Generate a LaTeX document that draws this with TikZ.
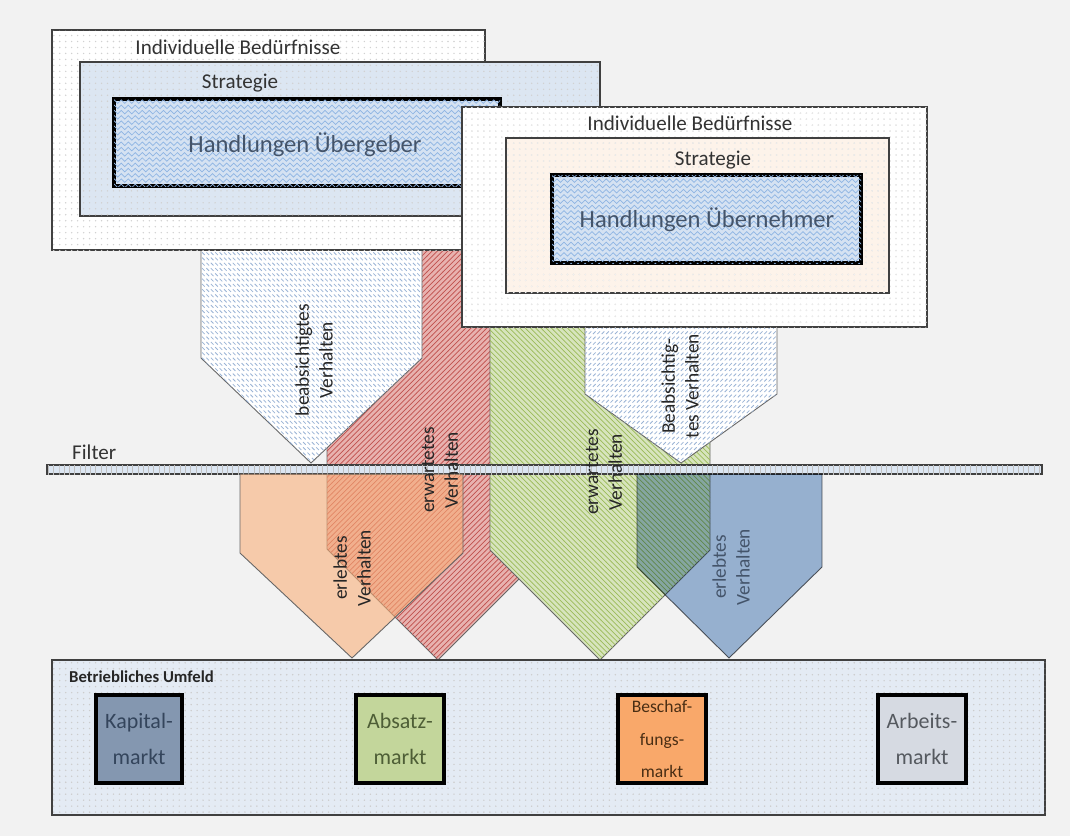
\documentclass[tikz,border=0pt]{standalone}
\usepackage{fontspec}
\setmainfont{Carlito}
\usepackage{tikz}
\usetikzlibrary{patterns}

\definecolor{bgray}{HTML}{F2F2F2}
\definecolor{frame}{HTML}{404040}
\definecolor{stratA}{HTML}{DCE6F2}
\definecolor{stratB}{HTML}{FDF3EA}
\definecolor{actfill}{HTML}{D5E2F2}
\definecolor{wavecol}{HTML}{8EB4E3}
\definecolor{redfill}{HTML}{E8B2AF}
\definecolor{redline}{HTML}{C0504D}
\definecolor{greenfill}{HTML}{D7E4BD}
\definecolor{greenline}{HTML}{9BBB59}
\definecolor{orangefill}{HTML}{F9AE76}
\definecolor{bluefill}{HTML}{95B3D7}
\definecolor{beabline}{HTML}{9AB3D5}
\definecolor{umfeld}{HTML}{E4EBF4}
\definecolor{kapfill}{HTML}{8497B0}
\definecolor{absfill}{HTML}{C3D69B}
\definecolor{besfill}{HTML}{F9A86A}
\definecolor{arbfill}{HTML}{D6DAE2}
\definecolor{kaptext}{HTML}{34455C}
\definecolor{abstext}{HTML}{4E5E36}
\definecolor{bestext}{HTML}{4A2E14}
\definecolor{arbtext}{HTML}{55595F}
\definecolor{acttext}{HTML}{44546A}
\definecolor{txt}{HTML}{262626}

\pgfdeclarepatternformonly{wave}{\pgfqpoint{-0.5pt}{-0.5pt}}{\pgfqpoint{4.5pt}{3.5pt}}{\pgfqpoint{4pt}{3pt}}{%
  \pgfsetlinewidth{0.4pt}
  \pgfpathmoveto{\pgfqpoint{0pt}{1pt}}
  \pgfpathlineto{\pgfqpoint{1pt}{2pt}}
  \pgfpathlineto{\pgfqpoint{3pt}{0pt}}
  \pgfpathlineto{\pgfqpoint{4pt}{1pt}}
  \pgfusepathqstroke}
\pgfdeclarepatternformonly{bslash}{\pgfqpoint{-0.5pt}{-0.5pt}}{\pgfqpoint{3pt}{3.5pt}}{\pgfqpoint{2.5pt}{3pt}}{%
  \pgfsetlinewidth{0.45pt}
  \pgfpathmoveto{\pgfqpoint{0pt}{2.2pt}}
  \pgfpathlineto{\pgfqpoint{1.5pt}{0.7pt}}
  \pgfusepathqstroke}
\pgfdeclarepatternformonly{fslash}{\pgfqpoint{-0.5pt}{-0.5pt}}{\pgfqpoint{3pt}{3.5pt}}{\pgfqpoint{2.5pt}{3pt}}{%
  \pgfsetlinewidth{0.45pt}
  \pgfpathmoveto{\pgfqpoint{0pt}{0.7pt}}
  \pgfpathlineto{\pgfqpoint{1.5pt}{2.2pt}}
  \pgfusepathqstroke}
\pgfdeclarepatternformonly{fewdots}{\pgfqpoint{-1pt}{-1pt}}{\pgfqpoint{1pt}{1pt}}{\pgfqpoint{3.4pt}{3.4pt}}{%
  \pgfpathcircle{\pgfqpoint{0pt}{0pt}}{0.45pt}
  \pgfusepathqfill}

\tikzstyle{outerbox}=[draw=frame,line width=0.8pt,fill=white,postaction={pattern=fewdots,pattern color=black!18}]
\tikzstyle{actbox}=[draw=black,line width=2.2pt,fill=actfill,postaction={pattern=wave,pattern color=wavecol}]
\tikzstyle{chev}=[draw=black!60,line width=0.5pt]
\tikzstyle{marketbox}=[draw=black,line width=2pt]
\tikzstyle{marketlabel}=[align=center,font=\fontsize{12.5}{20}\selectfont]
\tikzstyle{vlabel}=[rotate=90,align=center,text=txt,font=\fontsize{11}{13.5}\selectfont]
\tikzstyle{boxtitle}=[text=black!80,font=\fontsize{12}{14}\selectfont]

\begin{document}
\begin{tikzpicture}[x=0.02cm,y=-0.02cm]
\useasboundingbox (0,0) rectangle (1070,836);
\fill[bgray] (0,0) rectangle (1070,836);

\draw[chev,fill=redfill,postaction={pattern=north east lines,pattern color=redline}]
  (327,245) -- (549,245) -- (549,549) -- (438,660) -- (327,549) -- cycle;
\draw[chev,fill=greenfill,postaction={pattern=north west lines,pattern color=greenline}]
  (490,320) -- (710,320) -- (710,550) -- (600,660) -- (490,550) -- cycle;
\draw[chev,fill=white,postaction={pattern=bslash,pattern color=beabline}]
  (201,250) -- (422,250) -- (422,358) -- (311,463) -- (201,358) -- cycle;
\draw[chev,fill=white,postaction={pattern=fslash,pattern color=beabline}]
  (585,327) -- (777,327) -- (777,394) -- (681,463) -- (585,394) -- cycle;

\draw[outerbox] (52,30) rectangle (485,250);
\node[boxtitle] (needsA) at (238,47) {Individuelle Bedürfnisse};
\draw[outerbox,fill=stratA] (80,62) rectangle (600,216);
\node[boxtitle] (stratA) at (240,83) {Strategie};
\draw[actbox] (114,99) rectangle (500,186);
\node[text=acttext,font=\fontsize{14}{16}\selectfont] (actA) at (305,145) {Handlungen Übergeber};

\draw[outerbox,postaction={pattern=fewdots,pattern color=black!8}] (462,107) rectangle (927,327);
\node[boxtitle] (needsB) at (690,123) {Individuelle Bedürfnisse};
\draw[outerbox,fill=stratB,postaction={pattern=fewdots,pattern color=black!6}] (506,138) rectangle (889,293);
\node[boxtitle] (stratB) at (713,160) {Strategie};
\draw[actbox] (552,175) rectangle (861,263);
\node[text=acttext,font=\fontsize{14}{16}\selectfont] (actB) at (707,220) {Handlungen Übernehmer};

\node[boxtitle,anchor=west] (filter) at (66,452) {Filter};
\draw[frame,line width=0.8pt,fill=stratA,postaction={pattern=vertical lines,pattern color=black!25}] (47,465) rectangle (1042,474);

\draw[chev,fill=orangefill,fill opacity=0.58] (240,474) -- (463,474) -- (463,553) -- (352,658) -- (240,553) -- cycle;
\begin{scope}[blend mode=multiply]
\draw[chev,fill=bluefill,fill opacity=0.9] (637,474) -- (822,474) -- (822,567) -- (729,658) -- (637,567) -- cycle;
\end{scope}

\node[vlabel] (beabA) at (314,360) {beabsichtigtes\\Verhalten};
\node[vlabel] (erwR) at (440,470) {erwartetes\\Verhalten};
\node[vlabel] (erwG) at (604,472) {erwartetes\\Verhalten};
\node[vlabel] (beabB) at (680,386) {Beabsichtig-\\tes Verhalten};
\node[vlabel] (erlO) at (352,568) {erlebtes\\Verhalten};
\node[vlabel,text=acttext] (erlB) at (731,567) {erlebtes\\Verhalten};

\draw[frame,line width=0.8pt,fill=umfeld,postaction={pattern=fewdots,pattern color=black!20}] (52,660) rectangle (1045,815);
\node[anchor=west,font=\bfseries\fontsize{9.5}{11}\selectfont,text=black!85] (umfeld) at (63,677) {Betriebliches Umfeld};

\draw[marketbox,fill=kapfill] (96,695) rectangle (182,783);
\node[marketlabel,text=kaptext] (kapital) at (139,739) {Kapital-\\markt};
\draw[marketbox,fill=absfill] (356,695) rectangle (444,783);
\node[marketlabel,text=abstext] (absatz) at (400,739) {Absatz-\\markt};
\draw[marketbox,fill=besfill] (618,695) rectangle (706,783);
\node[marketlabel,text=bestext,font=\fontsize{10}{18.5}\selectfont] (beschaf) at (662,739) {Beschaf-\\fungs-\\markt};
\draw[marketbox,fill=arbfill] (878,695) rectangle (966,783);
\node[marketlabel,text=arbtext] (arbeit) at (922,739) {Arbeits-\\markt};
\end{tikzpicture}
\end{document}
